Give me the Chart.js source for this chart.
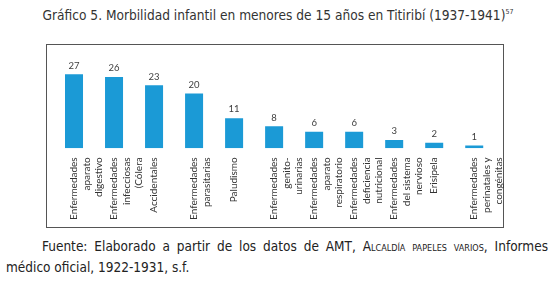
<!DOCTYPE html>
<html>
<head>
<meta charset="utf-8">
<script src="https://cdn.jsdelivr.net/npm/chart.js@4"></script>
<style>
    body { margin: 0; background: #fff; width: 556px; height: 283px; overflow: hidden; position: relative; }
    #title {
        position: absolute; left: 0; top: 7px; width: 556px; text-align: center;
        font-family: "Liberation Sans Narrow", "DejaVu Sans Condensed", sans-serif;
        font-size: 13.6px; color: #333;
    }
    #title sup { font-size: 7px; }
    #box {
        position: absolute; left: 46px; top: 44px; width: 456px; height: 182px;
        border: 1px solid #555;
    }
    #wrap { position: absolute; left: 0; top: 0; width: 474px; height: 188px; }
    .src {
        position: absolute; font-family: "Liberation Sans Narrow", "DejaVu Sans Condensed", sans-serif;
        font-size: 13.5px; color: #222; white-space: nowrap;
    }
    #src1 { left: 42px; top: 238px; width: 506px; text-align: justify; text-align-last: justify; white-space: normal; }
    #src2 { left: 6px; top: 259px; }
    .sc { font-variant: small-caps; }
</style>
</head>
<body>
<div id="title">Gráfico 5. Morbilidad infantil en menores de 15 años en Titiribí (1937-1941)<sup>57</sup></div>
<div id="box"><div id="wrap"><canvas id="chart"></canvas></div></div>
<div class="src" id="src1">Fuente: Elaborado a partir de los datos de AMT, <span class="sc">Alcaldía papeles varios</span>, Informes</div>
<div class="src" id="src2">médico oficial, 1922-1931, s.f.</div>
<script>
const categories = [
    ['Enfermedades', 'aparato', 'digestivo'],
    ['Enfermedades', 'infecciosas', '(Cólera'],
    'Accidentales',
    ['Enfermedades', 'parasitarias'],
    'Paludismo',
    ['Enfermedades', 'genito-', 'urinarias'],
    ['Enfermedades', 'aparato', 'respiratorio'],
    ['Enfermedades', 'deficiencia', 'nutricional'],
    ['Enfermedades', 'del sistema', 'nervioso'],
    'Erisipela',
    ['Enfermedades', 'perinatales y', 'congénitas']
];
const casos = [27, 26, 23, 20, 11, 8, 6, 6, 3, 2, 1];

// numbers above the bars
const valueLabels = {
    id: 'valueLabels',
    afterDatasetsDraw(chart) {
        const ctx = chart.ctx;
        const meta = chart.getDatasetMeta(0);
        ctx.save();
        ctx.font = '9.5px Lato';
        ctx.fillStyle = '#404040';
        ctx.textAlign = 'center';
        ctx.textBaseline = 'bottom';
        meta.data.forEach((bar, i) => {
            ctx.fillText(casos[i], bar.x, bar.y - 4);
        });
        ctx.restore();
    }
};

document.addEventListener('DOMContentLoaded', function() {
    const ctx = document.getElementById('chart').getContext('2d');
    new Chart(ctx, {
        type: 'bar',
        data: {
            labels: categories,
            datasets: [{
                data: casos,
                backgroundColor: '#1b9ad6',
                barPercentage: 0.45,
                categoryPercentage: 1
            }]
        },
        options: {
            responsive: true,
            maintainAspectRatio: false,
            animation: false,
            layout: { padding: { top: 21, left: 7, right: 6, bottom: 4 } },
            plugins: { legend: { display: false }, tooltip: { enabled: false } },
            scales: {
                x: {
                    grid: { display: false, drawTicks: false },
                    border: { display: false },
                    ticks: {
                        minRotation: 90, maxRotation: 90, autoSkip: false,
                        padding: 9, color: '#333',
                        font: { family: 'Lato', size: 10, lineHeight: 1.25 }
                    }
                },
                y: { display: false, min: 0, max: 30 }
            }
        },
        plugins: [valueLabels]
    });
});
</script>
</body>
</html>
